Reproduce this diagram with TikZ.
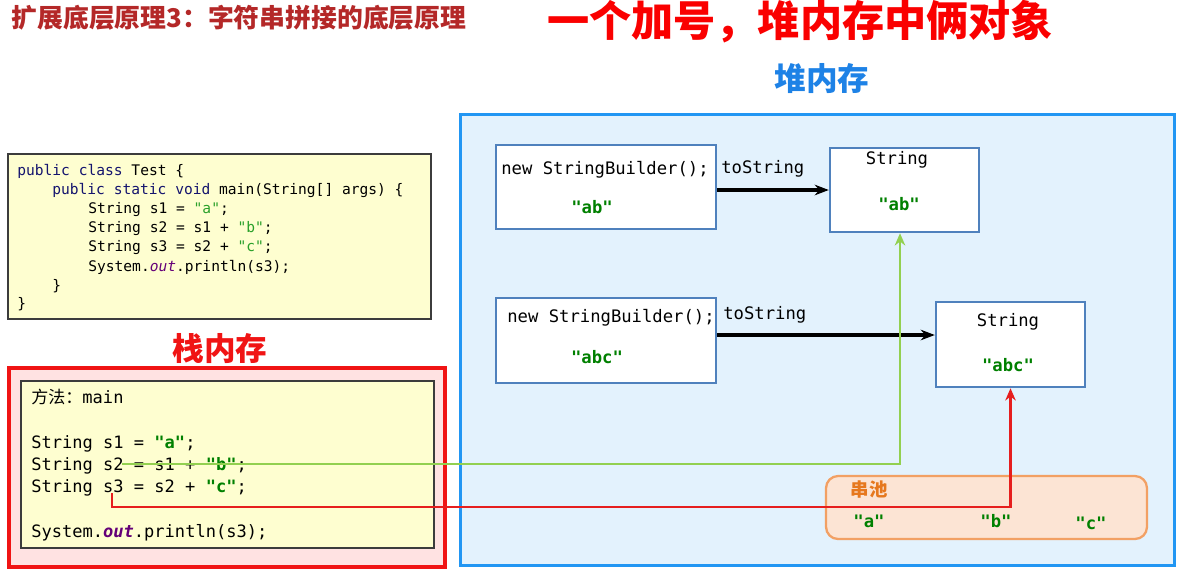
\documentclass[tikz,border=0pt]{standalone}
\usepackage{fontspec}
\newfontfamily\cjk{Noto Sans CJK SC}
\newfontfamily\mono{DejaVu Sans Mono}
\usetikzlibrary{arrows.meta}
\definecolor{titlered}{RGB}{180,40,40}
\definecolor{bigred}{RGB}{250,0,0}
\definecolor{heapblue}{RGB}{30,130,230}
\definecolor{yellowfill}{RGB}{254,254,208}
\definecolor{codeborder}{RGB}{60,60,60}
\definecolor{pinkfill}{RGB}{255,226,226}
\definecolor{stackred}{RGB}{240,20,20}
\definecolor{bluefill}{RGB}{227,242,253}
\definecolor{heapborder}{RGB}{33,150,243}
\definecolor{boxborder}{RGB}{79,129,189}
\definecolor{poolfill}{RGB}{252,228,212}
\definecolor{poolborder}{RGB}{242,160,100}
\definecolor{pooltext}{RGB}{230,120,30}
\definecolor{strgreen}{RGB}{0,128,0}
\definecolor{codegreen}{RGB}{42,160,42}
\definecolor{gline}{RGB}{146,208,80}
\definecolor{rline}{RGB}{230,30,30}
\definecolor{outpurple}{RGB}{100,0,120}
\definecolor{kwnavy}{RGB}{20,20,110}
\newcommand\kw[1]{\textcolor{kwnavy}{#1}}
\newcommand\cstr[1]{\textcolor{codegreen}{#1}}
\newcommand\bstr[1]{\textcolor{strgreen}{\bfseries #1}}
\newcommand\outw{\textcolor{outpurple}{\itshape out}}
\tikzset{
  txt/.style={inner sep=0pt, anchor=base west},
  codeA/.style={txt, font=\mono\fontsize{8.3}{10}\selectfont},
  codeB/.style={txt, font=\mono\fontsize{9.7}{12}\selectfont},
  heapt/.style={inner sep=0pt, font=\mono\fontsize{9.8}{12}\selectfont},
  objbox/.style={draw=boxborder, line width=1.4pt, fill=white, inner sep=0pt},
  arr/.style={black, line width=2pt, -{Stealth[length=8pt,width=6pt]}},
}
\begin{document}
\begin{tikzpicture}[x=0.02cm, y=-0.02cm]
\useasboundingbox (0,0) rectangle (1189,569);
% titles
\node (t1) [inner sep=0pt, font=\cjk\bfseries\fontsize{14.7}{16}\selectfont, text=titlered] at (239,18) {扩展底层原理3：字符串拼接的底层原理};
\node (t2) [inner sep=0pt, font=\cjk\bfseries\fontsize{24}{26}\selectfont, text=bigred] at (800,22) {一个加号，堆内存中俩对象};
\node (t3) [inner sep=0pt, font=\cjk\bfseries\fontsize{18}{20}\selectfont, text=heapblue] at (822,78) {堆内存};
\node (t4) [inner sep=0pt, font=\cjk\bfseries\fontsize{18}{20}\selectfont, text=stackred] at (220,348) {栈内存};

% code box
\node (code) [draw=codeborder, line width=1.1pt, fill=yellowfill, minimum width=8.46cm, minimum height=3.3cm, inner sep=0pt] at (219.5,236.5) {};
\node (c1) [codeA] at (17,175) {\kw{public class} Test \{};
\node (c2) [codeA] at (52,194) {\kw{public static void} main(String[] args) \{};
\node (c3) [codeA] at (88,213.5) {String s1 = \cstr{"a"};};
\node (c4) [codeA] at (88,232.5) {String s2 = s1 + \cstr{"b"};};
\node (c5) [codeA] at (88,251.5) {String s3 = s2 + \cstr{"c"};};
\node (c6) [codeA] at (88,271) {System.\outw.println(s3);};
\node (c7) [codeA] at (52,290.5) {\}};
\node (c8) [codeA] at (17,308) {\}};

% stack
\node (stack) [draw=stackred, line width=2.2pt, fill=pinkfill, minimum width=8.72cm, minimum height=3.98cm, inner sep=0pt] at (227,467.5) {};
\node (frame) [draw=codeborder, line width=1.1pt, fill=yellowfill, minimum width=8.26cm, minimum height=3.34cm, inner sep=0pt] at (227.5,464.5) {};
\node (m0) [codeB] at (31,403) {{\cjk 方法：}main};
\node (m1) [codeB] at (31,448) {String s1 = \bstr{"a"};};
\node (m2) [codeB] at (31,470) {String s2 = s1 + \bstr{"b"};};
\node (m3) [codeB] at (31,492.5) {String s3 = s2 + \bstr{"c"};};
\node (m4) [codeB] at (31,537) {System.\textcolor{outpurple}{\bfseries\itshape out}.println(s3);};

% heap
\node (heap) [draw=heapborder, line width=1.8pt, fill=bluefill, minimum width=14.28cm, minimum height=9.02cm, inner sep=0pt] at (817.5,340) {};
\node (sb1) [objbox, minimum width=4.4cm, minimum height=1.68cm] at (606,187) {};
\node (str1) [objbox, minimum width=2.98cm, minimum height=1.68cm] at (904.5,190) {};
\node (sb2) [objbox, minimum width=4.4cm, minimum height=1.7cm] at (606,340.5) {};
\node (str2) [objbox, minimum width=2.98cm, minimum height=1.7cm] at (1010.5,344.5) {};
\node (pool) [draw=poolborder, line width=1.3pt, fill=poolfill, rounded corners=0.24cm, minimum width=6.42cm, minimum height=1.26cm, inner sep=0pt] at (986.5,507.5) {};

\node (sb1t) [heapt, anchor=west] at (501,170) {new StringBuilder();};
\node (sb1v) [heapt] at (592,207) {\bstr{"ab"}};
\node (str1t) [heapt] at (897,160) {String};
\node (str1v) [heapt] at (899,204) {\bstr{"ab"}};
\node (sb2t) [heapt, anchor=west] at (507,318) {new StringBuilder();};
\node (sb2v) [heapt] at (597,357) {\bstr{"abc"}};
\node (str2t) [heapt] at (1008,322) {String};
\node (str2v) [heapt] at (1008,365) {\bstr{"abc"}};
\node (ts1) [heapt, anchor=west] at (721,169) {toString};
\node (ts2) [heapt, anchor=west] at (723,315) {toString};

\node (poolt) [inner sep=0pt, font=\cjk\bfseries\fontsize{10.5}{12}\selectfont, text=pooltext] at (869,489) {串池};
\node (pa) [heapt] at (869,521) {\bstr{"a"}};
\node (pb) [heapt] at (996,521) {\bstr{"b"}};
\node (pc) [heapt] at (1091,523) {\bstr{"c"}};

% arrows
\coordinate (a2y) at (0,335);
\draw[arr] (sb1.east |- str1.west) -- (str1.west);
\draw[arr] (sb2.east |- a2y) -- (str2.west |- a2y);

\coordinate (g0) at (122,464);
\coordinate (g1) at (900,464);
\draw[gline, line width=1.4pt, -{Stealth[length=7pt,width=6pt]}] (g0) -- (g1) -- (g1 |- str1.south);
\coordinate (r0) at (112,493);
\coordinate (r1) at (112,507);
\draw[rline, line width=1.4pt, -{Stealth[length=7pt,width=6pt]}] (r0) -- (r1) -- (r1 -| str2.south) -- (str2.south);
\end{tikzpicture}
\end{document}
